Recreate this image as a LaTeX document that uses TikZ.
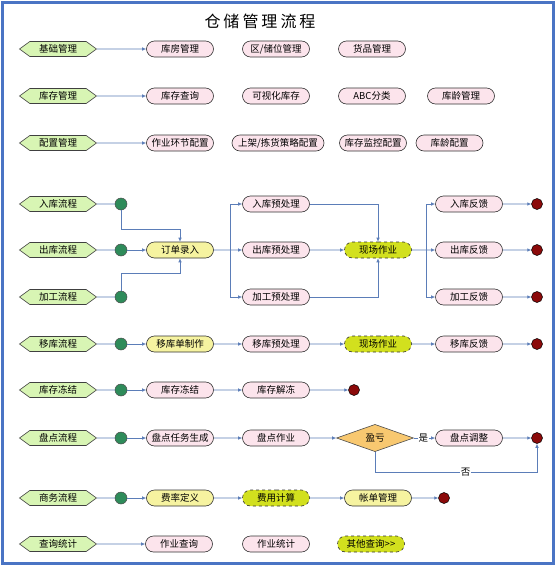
\documentclass[tikz,border=0pt]{standalone}
\usepackage{fontspec}
\setmainfont{Noto Sans CJK SC}
\usetikzlibrary{shapes.misc,shapes.symbols,shapes.geometric,arrows.meta}
\definecolor{frameblue}{HTML}{4A74C4}
\definecolor{arrowblue}{HTML}{5B7DB8}
\definecolor{hexfill}{HTML}{D8F5B4}
\definecolor{pinkfill}{HTML}{FCE4EC}
\definecolor{yellowfill}{HTML}{F6F3A0}
\definecolor{limefill}{HTML}{D2E01E}
\definecolor{startgreen}{HTML}{2E8B5A}
\definecolor{endred}{HTML}{8B0A0A}
\definecolor{difill}{HTML}{F8C870}
\begin{document}
\begin{tikzpicture}[x=1pt,y=-1pt,font=\fontsize{9.5}{10}\selectfont,
  hexbox/.style={signal, signal to=west and east, signal pointer angle=72,
    minimum width=77pt, minimum height=15pt, inner sep=1pt, fill=hexfill, draw=black!75, line width=0.6pt},
  pbox/.style={rounded rectangle, minimum width=69pt, minimum height=16pt, inner sep=1pt,
    fill=pinkfill, draw=black!80, line width=0.6pt},
  ybox/.style={pbox, fill=yellowfill},
  lbox/.style={pbox, fill=limefill, dashed},
  startdot/.style={circle, minimum size=12pt, inner sep=0pt, fill=startgreen, draw=black!70, line width=0.5pt},
  enddot/.style={circle, minimum size=11pt, inner sep=0pt, fill=endred, draw=black, line width=0.5pt},
  decide/.style={diamond, minimum width=77pt, minimum height=21pt, inner sep=0pt, fill=difill, draw=black!70, line width=0.6pt},
  arr/.style={draw=arrowblue, line width=0.7pt, -{Latex[length=4pt,width=3.5pt]}},
  ln/.style={draw=arrowblue, line width=0.7pt},
  lbl/.style={fill=white, inner sep=1pt}]
\useasboundingbox (0,0) rectangle (556,565);
\fill[white] (0,0) rectangle (556,565);
\draw[frameblue, line width=3pt] (2,2) rectangle (553,563);
\node (title) at (260,21) {\fontsize{16}{18}\selectfont 仓\hspace{3pt}储\hspace{3pt}管\hspace{3pt}理\hspace{3pt}流\hspace{3pt}程};
% row 1
\node[hexbox] (h1) at (58,49) {基础管理};
\node[pbox] (a1) at (180,49) {库房管理};
\node[pbox] (b1) at (276,49) {区/储位管理};
\node[pbox] (c1) at (372,49) {货品管理};
\draw[arr] (h1) -- (a1);
% row 2
\node[hexbox] (h2) at (58,96) {库存管理};
\node[pbox] (a2) at (180,96) {库存查询};
\node[pbox] (b2) at (276,96) {可视化库存};
\node[pbox] (c2) at (372,96) {ABC分类};
\node[pbox] (d2) at (461,96) {库龄管理};
\draw[arr] (h2) -- (a2);
% row 3
\node[hexbox] (h3) at (58,143) {配置管理};
\node[pbox] (a3) at (180,143) {作业环节配置};
\node[pbox, minimum width=94pt] (b3) at (278,143) {上架/拣货策略配置};
\node[pbox] (c3) at (373,143) {库存监控配置};
\node[pbox] (d3) at (449.5,143) {库龄配置};
\draw[arr] (h3) -- (a3);
% rows 4-6
\node[hexbox] (h4) at (58,204) {入库流程};
\node[hexbox] (h5) at (58,250) {出库流程};
\node[hexbox] (h6) at (58,297) {加工流程};
\node[startdot] (s4) at (121,204) {};
\node[startdot] (s5) at (121,250) {};
\node[startdot] (s6) at (121,297) {};
\node[ybox] (order) at (180,250) {订单录入};
\node[pbox] (p4) at (276,204) {入库预处理};
\node[pbox] (p5) at (276,250) {出库预处理};
\node[pbox] (p6) at (276,297) {加工预处理};
\node[lbox] (field) at (378,250) {现场作业};
\node[pbox] (fb4) at (469,204) {入库反馈};
\node[pbox] (fb5) at (469,250) {出库反馈};
\node[pbox] (fb6) at (469,297) {加工反馈};
\node[enddot] (e4) at (537,204) {};
\node[enddot] (e5) at (537,250) {};
\node[enddot] (e6) at (537,297) {};
\draw[ln] (h4) -- (s4);
\draw[ln] (h5) -- (s5);
\draw[ln] (h6) -- (s6);
\coordinate (m1) at (180,229);
\coordinate (m2) at (180,273);
\draw[arr] (s4.south) |- (m1) -- (order.north);
\draw[arr] (s5) -- (order);
\draw[arr] (s6.north) |- (m2) -- (order.south);
\coordinate (f1) at (230,250);
\draw[arr] (order) -- (p5);
\draw[arr] (f1) |- (p4.west);
\draw[arr] (f1) |- (p6.west);
\draw[arr] (p4.east) -| (field.north);
\draw[arr] (p5) -- (field);
\draw[arr] (p6.east) -| (field.south);
\coordinate (f2) at (426,250);
\draw[arr] (field) -- (fb5);
\draw[arr] (f2) |- (fb4.west);
\draw[arr] (f2) |- (fb6.west);
\draw[arr] (fb4) -- (e4);
\draw[arr] (fb5) -- (e5);
\draw[arr] (fb6) -- (e6);
% row 7
\node[hexbox] (h7) at (58,344) {移库流程};
\node[startdot] (s7) at (121,344) {};
\node[ybox] (q7) at (180,344) {移库单制作};
\node[pbox] (p7) at (276,344) {移库预处理};
\node[lbox] (field7) at (378,344) {现场作业};
\node[pbox] (fb7) at (469,344) {移库反馈};
\node[enddot] (e7) at (537,344) {};
\draw[ln] (h7) -- (s7);
\draw[arr] (s7) -- (q7);
\draw[arr] (q7) -- (p7);
\draw[arr] (p7) -- (field7);
\draw[arr] (field7) -- (fb7);
\draw[arr] (fb7) -- (e7);
% row 8
\node[hexbox] (h8) at (58,390) {库存冻结};
\node[startdot] (s8) at (121,390) {};
\node[pbox] (q8) at (180,390) {库存冻结};
\node[pbox] (p8) at (276,390) {库存解冻};
\node[enddot] (e8) at (354,390) {};
\draw[ln] (h8) -- (s8);
\draw[arr] (s8) -- (q8);
\draw[arr] (q8) -- (p8);
\draw[arr] (p8) -- (e8);
% row 9
\node[hexbox] (h9) at (58,438) {盘点流程};
\node[startdot] (s9) at (121,438) {};
\node[pbox] (q9) at (180,438) {盘点任务生成};
\node[pbox] (p9) at (276,438) {盘点作业};
\node[decide] (d9) at (375,438) {盈亏};
\node[pbox] (fb9) at (469,438) {盘点调整};
\node[enddot] (e9) at (537,438) {};
\draw[ln] (h9) -- (s9);
\draw[arr] (s9) -- (q9);
\draw[arr] (q9) -- (p9);
\draw[arr] (p9) -- (d9);
\draw[arr] (d9) -- node[lbl, pos=0.45] {是} (fb9);
\draw[arr] (fb9) -- (e9);
\coordinate (n1) at (375,472);
\draw[arr] (d9.south) -- (n1) -| node[lbl, pos=0.28] {否} (e9.south);
% row 10
\node[hexbox] (h10) at (58,498) {商务流程};
\node[startdot] (s10) at (121,498) {};
\node[ybox] (q10) at (180,498) {费率定义};
\node[lbox] (p10) at (276,498) {费用计算};
\node[ybox] (r10) at (378,498) {帐单管理};
\node[enddot] (e10) at (444,498) {};
\draw[ln] (h10) -- (s10);
\draw[arr] (s10) -- (q10);
\draw[arr] (q10) -- (p10);
\draw[arr] (p10) -- (r10);
\draw[arr] (r10) -- (e10);
% row 11
\node[hexbox] (h11) at (58,544) {查询统计};
\node[pbox] (a11) at (179,544) {作业查询};
\node[pbox] (b11) at (276,544) {作业统计};
\node[lbox] (c11) at (371,544) {其他查询>{}>};
\draw[arr] (h11) -- (a11);
\end{tikzpicture}
\end{document}
